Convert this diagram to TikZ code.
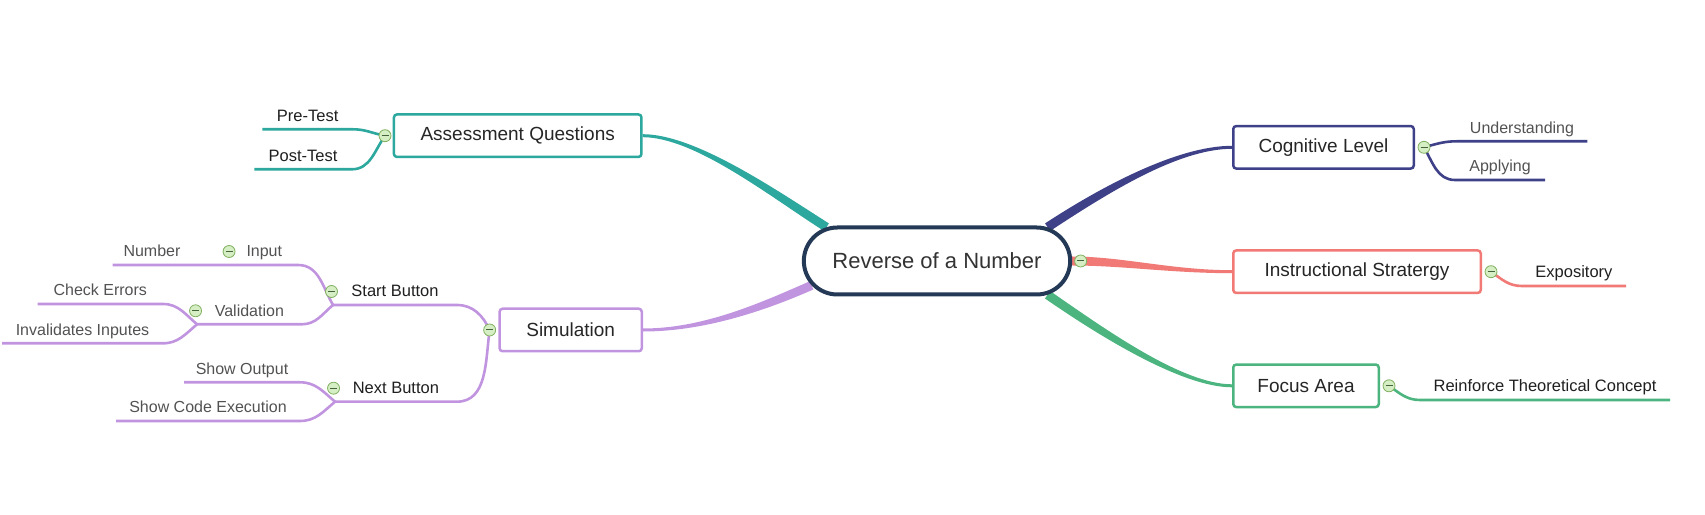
\documentclass[tikz,border=0pt]{standalone}
\usepackage{fontspec}
\setmainfont{Liberation Sans}
\usetikzlibrary{positioning,calc,shapes.misc}
\definecolor{rootcol}{RGB}{36,57,86}
\definecolor{aqcol}{RGB}{44,168,158}
\definecolor{simcol}{RGB}{193,148,224}
\definecolor{cogcol}{RGB}{62,65,136}
\definecolor{instrcol}{RGB}{241,122,118}
\definecolor{focuscol}{RGB}{76,181,127}
\definecolor{togglefill}{RGB}{214,238,196}
\definecolor{toggleedge}{RGB}{128,176,96}
\definecolor{toggleminus}{RGB}{70,100,60}
\pgfdeclarelayer{background}
\pgfsetlayers{background,main}

% tapered branch: colour, start, control 1, control 2, end, half width at start, half width at end
\newcommand{\branchfill}[7]{%
  \fill[#1] ($#2+#6$) .. controls ($#3+#6$) and ($#4+#7$) .. ($#5+#7$)
    -- ($#5-#7$) .. controls ($#4-#7$) and ($#3-#6$) .. ($#2-#6$) -- cycle;}

\begin{document}
\begin{tikzpicture}[x=1pt,y=1pt,
  topic/.style={draw,rounded corners=3pt,line width=2.5pt,fill=white,minimum height=42.5pt,inner sep=0pt,text=black!85,font=\fontsize{19}{23}\selectfont},
  leaf/.style={anchor=south,outer sep=0pt,inner xsep=0pt,inner ysep=8pt,text depth=0pt,text=black!88,font=\fontsize{16.5}{20}\selectfont},
  faint/.style={leaf,text=black!68,font=\fontsize{16}{19}\selectfont},
  toggle/.style={circle,draw=toggleedge,fill=togglefill,line width=0.8pt,minimum size=12pt,inner sep=0pt,
    path picture={\draw[toggleminus,line width=1pt] ([xshift=-3.5pt]path picture bounding box.center) -- ([xshift=3.5pt]path picture bounding box.center);}},
  twig/.style={line width=2.6pt,line join=round}]
\useasboundingbox (0,0) rectangle (1705,514);

% Central topic
\node[rounded rectangle,draw=rootcol,line width=4pt,fill=white,minimum width=273pt,minimum height=67pt,text=black!80,font=\fontsize{22}{26}\selectfont] (root) at (937,253) {Reverse of a Number};

% Main topics
\node[topic,draw=aqcol,minimum width=247.5pt] (assess) at (517.7,378.3) {Assessment Questions};
\node[topic,draw=simcol,minimum width=142.2pt] (sim) at (570.7,184) {Simulation};
\node[topic,draw=cogcol,minimum width=180.5pt] (cog) at (1323.5,366.7) {Cognitive Level};
\node[topic,draw=instrcol,minimum width=247.5pt] (instr) at (1357,242.3) {Instructional Stratergy};
\node[topic,draw=focuscol,minimum width=145.5pt] (focus) at (1306,128.2) {Focus Area};

% Subtopics, left side
\node[leaf,minimum width=90.7pt] (pre) at (307.7,384.7) {Pre-Test};
\node[leaf,minimum width=97.4pt] (post) at (303,344.7) {Post-Test};
\node[leaf,minimum width=124pt] (start) at (395,209) {Start Button};
\node[leaf,minimum width=121.7pt] (next) at (395.9,112.3) {Next Button};
\node[faint,minimum width=67.5pt] (input) at (264.3,249) {Input};
\node[faint,minimum width=78.6pt] (number) at (152,249) {Number};
\node[faint,minimum width=104.7pt] (valid) at (249.4,189.7) {Validation};
\node[faint,minimum width=125.3pt] (check) at (100.3,210) {Check Errors};
\node[faint,minimum width=161pt] (invalid) at (82.5,170.7) {Invalidates Inputes};
\node[faint,minimum width=116pt] (output) at (242,131.7) {Show Output};
\node[faint,minimum width=184pt] (code) at (208,93) {Show Code Execution};

% Subtopics, right side
\node[faint,minimum width=130.6pt] (under) at (1522,372.7) {Understanding};
\node[faint,minimum width=90pt] (apply) at (1500,334) {Applying};
\node[leaf,minimum width=104.3pt] (expo) at (1573.9,228) {Expository};
\node[leaf,minimum width=250pt] (reinf) at (1545,114) {Reinforce Theoretical Concept};

% Collapse buttons
\node[toggle] (rootc) at ($(root.east)+(8.5,0)$) {};
\node[toggle] (assessc) at ($(assess.west)+(-7.7,0)$) {};
\node[toggle] (simc) at ($(sim.west)+(-8.7,0)$) {};
\node[toggle] (cogc) at ($(cog.east)+(9,0)$) {};
\node[toggle] (instrc) at ($(instr.east)+(9,0)$) {};
\node[toggle] (focusc) at ($(focus.east)+(9,0)$) {};
\node[toggle] (startc) at ($(start.south west)+(-1.5,13.5)$) {};
\node[toggle] (nextc) at ($(next.south west)+(-1.5,13.5)$) {};
\node[toggle] (validc) at ($(valid.south west)+(-1.5,13.5)$) {};
\node[toggle] (inputc) at ($(input.south west)+(-1.5,13.5)$) {};

\begin{pgfonlayer}{background}
% Branches from the centre
\branchfill{aqcol}{(assess.east)}{(assess.east)+(52,0)}{(root.163)+(-55,35)}{(root.163)}{(0,1.5)}{(2.4,3.8)}
\branchfill{simcol}{(sim.east)}{(sim.east)+(60,0)}{(root.191)+(-50,-22)}{(root.191)}{(0,1.5)}{(-1.8,4.1)}
\branchfill{cogcol}{(cog.west)}{(cog.west)+(-55,0)}{(root.17)+(55,36)}{(root.17)}{(0,1.5)}{(-2.5,3.8)}
\branchfill{instrcol}{(instr.west)}{(instr.west)+(-60,0)}{(root.east)+(50,0)}{(root.east)}{(0,1.5)}{(0,4.5)}
\branchfill{focuscol}{(focus.west)}{(focus.west)+(-50,0)}{(root.-17)+(55,-38)}{(root.-17)}{(0,1.5)}{(2.6,3.7)}

% Assessment questions
\draw[twig,aqcol] (assessc.center) to[out=170,in=0] (pre.south east) -- (pre.south west);
\draw[twig,aqcol] (assessc.center) to[out=235,in=0] (post.south east) -- (post.south west);

% Simulation
\draw[twig,simcol] (simc.center) to[out=115,in=0] (start.south east) -- (start.south west);
\draw[twig,simcol] (simc.center) to[out=262,in=0] (next.south east) -- (next.south west);
\draw[twig,simcol] (start.south west) to[out=120,in=0] (input.south east) -- (input.south west) -- (number.south east) -- (number.south west);
\draw[twig,simcol] (start.south west) to[out=220,in=0] (valid.south east) -- (valid.south west);
\draw[twig,simcol] (valid.south west) to[out=140,in=0] (check.south east) -- (check.south west);
\draw[twig,simcol] (valid.south west) to[out=220,in=0] (invalid.south east) -- (invalid.south west);
\draw[twig,simcol] (next.south west) to[out=140,in=0] (output.south east) -- (output.south west);
\draw[twig,simcol] (next.south west) to[out=220,in=0] (code.south east) -- (code.south west);

% Right side
\draw[twig,cogcol] (cogc.center) to[out=15,in=180] (under.south west) -- (under.south east);
\draw[twig,cogcol] (cogc.center) to[out=-60,in=180] (apply.south west) -- (apply.south east);
\draw[twig,instrcol] (instrc.center) to[out=-35,in=180] (expo.south west) -- (expo.south east);
\draw[twig,focuscol] (focusc.center) to[out=-35,in=180] (reinf.south west) -- (reinf.south east);
\end{pgfonlayer}
\end{tikzpicture}
\end{document}
